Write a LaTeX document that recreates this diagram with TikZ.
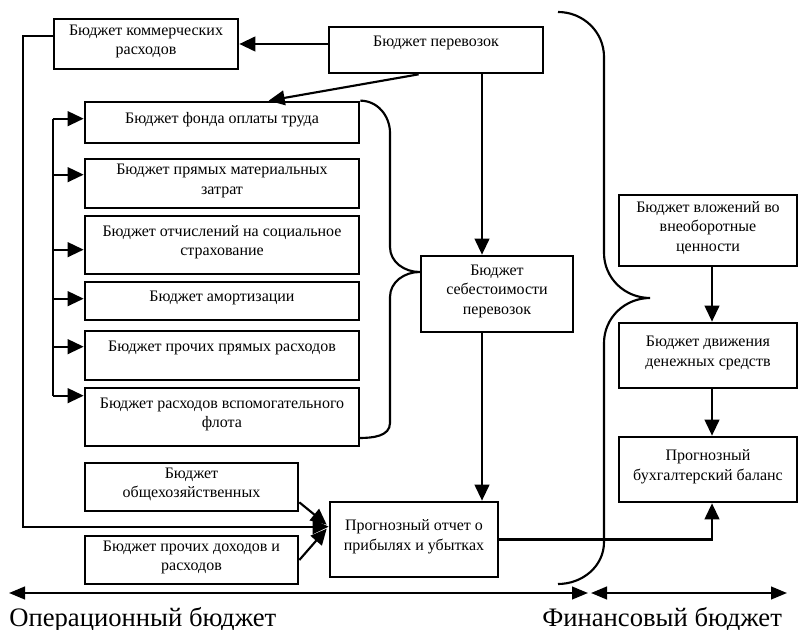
\documentclass[tikz,border=0pt]{standalone}
\usepackage{fontspec}
\setmainfont{Liberation Serif}
\usetikzlibrary{arrows.meta,calc,fit}

\begin{document}
\begin{tikzpicture}[x=0.75pt,y=-0.75pt,
   box/.style={draw,line width=2pt,inner sep=0pt},
   txt/.style={align=center,inner sep=0pt,font=\fontsize{12}{14.5}\selectfont},
   arr/.style={line width=1.6pt,-{Triangle[length=12pt,width=11pt]}},
   darr/.style={line width=1.6pt,{Triangle[length=12pt,width=9.5pt]}-{Triangle[length=12pt,width=9.5pt]}},
   brc/.style={line width=1.6pt},
   big/.style={inner sep=0pt,font=\fontsize{20}{24}\selectfont}]
\useasboundingbox (0,0) rectangle (798,630);
% box: [text shift]{name}{x1}{y1}{x2}{y2}{text}
\newcommand{\bx}[7][2pt]{\node[box,fit={(#3,#4) (#5,#6)}] (#2) {};
  \node[txt] (#2-t) at ([yshift=#1]#2.center) {#7};}
% top row
\bx{komm}{54}{19}{238}{69}{Бюджет коммерческих\\расходов}
\bx[5pt]{perev}{329}{27}{543}{73}{Бюджет перевозок}
% cost items
\bx{fond}{85}{102}{359}{143}{Бюджет фонда оплаты труда}
\bx{mat}{85}{159}{359}{208}{Бюджет прямых материальных\\затрат}
\bx{otch}{85}{216}{359}{274}{Бюджет отчислений на социальное\\страхование}
\bx{amort}{85}{282}{359}{320}{Бюджет амортизации}
\bx[6pt]{proch}{85}{331}{359}{380}{Бюджет прочих прямых расходов}
\bx{vspom}{85}{388}{359}{446}{Бюджет расходов вспомогательного\\флота}
\bx{sebest}{421}{256}{573}{332}{Бюджет\\себестоимости\\перевозок}
% lower left
\bx{obsh}{85}{463}{298}{511}{Бюджет\\общехозяйственных}
\bx{prdoh}{85}{536}{298}{584}{Бюджет прочих доходов и\\расходов}
\bx{pnl}{330}{502}{498}{577}{Прогнозный отчет о\\прибылях и убытках}
% financial budget
\bx{vlozh}{619}{195}{797}{266}{Бюджет вложений во\\внеоборотные\\ценности}
\bx{ddc}{619}{323}{797}{388}{Бюджет движения\\денежных средств}
\bx{bal}{619}{437}{797}{502}{Прогнозный\\бухгалтерский баланс}

\coordinate (vx) at (482,0);
\coordinate (fx) at (712,0);
\coordinate (ox) at (23,0);
\coordinate (pin) at ($(pnl.north west)+(0,26)$);
\coordinate (kw) at ($(komm.north west)+(0,18)$);

\draw[arr] (perev.west |- komm.east) -- (komm.east);
\draw[arr] ($(perev.south west)+(91,0)$) -- ($(fond.north west)+(185,0)$);
\draw[arr] (vx |- perev.south) -- (vx |- sebest.north);
\draw[arr] (vx |- sebest.south) -- (vx |- pnl.north);
% branch to the cost items
\draw[brc] ($(fond.north west)+(-31,18)$) -- ($(vspom.north west)+(-31,9)$);
\foreach \b/\d in {fond/18,mat/17,otch/35,amort/18,proch/17,vspom/9}
  \draw[arr] ($(\b.north west)+(-31,\d)$) -- ($(\b.north west)+(0,\d)$);
\draw[arr] (kw) -- (kw -| ox) |- (pin);
\draw[arr] ($(obsh.south east)+(0,-10)$) -- ($(pin)+(-2,-2)$);
\draw[arr] (prdoh.east) -- ($(pin)+(-2,2)$);
\draw[arr] (pnl.east) -| (fx |- bal.south);
\draw[arr] (fx |- vlozh.south) -- (fx |- ddc.north);
\draw[arr] (fx |- ddc.south) -- (fx |- bal.north);

% braces
\draw[brc] (fond.north east) to[out=0,in=90] (390,133) -- (390,247)
  to[out=-90,in=180] (sebest.west |- 0,272) to[out=180,in=90] (390,297) -- (390,423)
  to[out=-90,in=0] (359,438);
\draw[brc] (558,12) to[out=0,in=90] (604,57) -- (604,253) to[out=-90,in=180] (650,298)
  to[out=180,in=90] (604,343) -- (604,542) to[out=-90,in=0] (558,584);

% budget axis
\coordinate (a0) at (9,593);
\coordinate (a1) at (588,593);
\coordinate (a2) at (591,593);
\coordinate (a3) at (787,593);
\draw[darr] (a0) -- (a1);
\draw[darr] (a2) -- (a3);
\node[big,anchor=base west] (oper) at (9,626) {Операционный бюджет};
\node[big,anchor=base west] (fin) at (542,626) {Финансовый бюджет};
\end{tikzpicture}
\end{document}
